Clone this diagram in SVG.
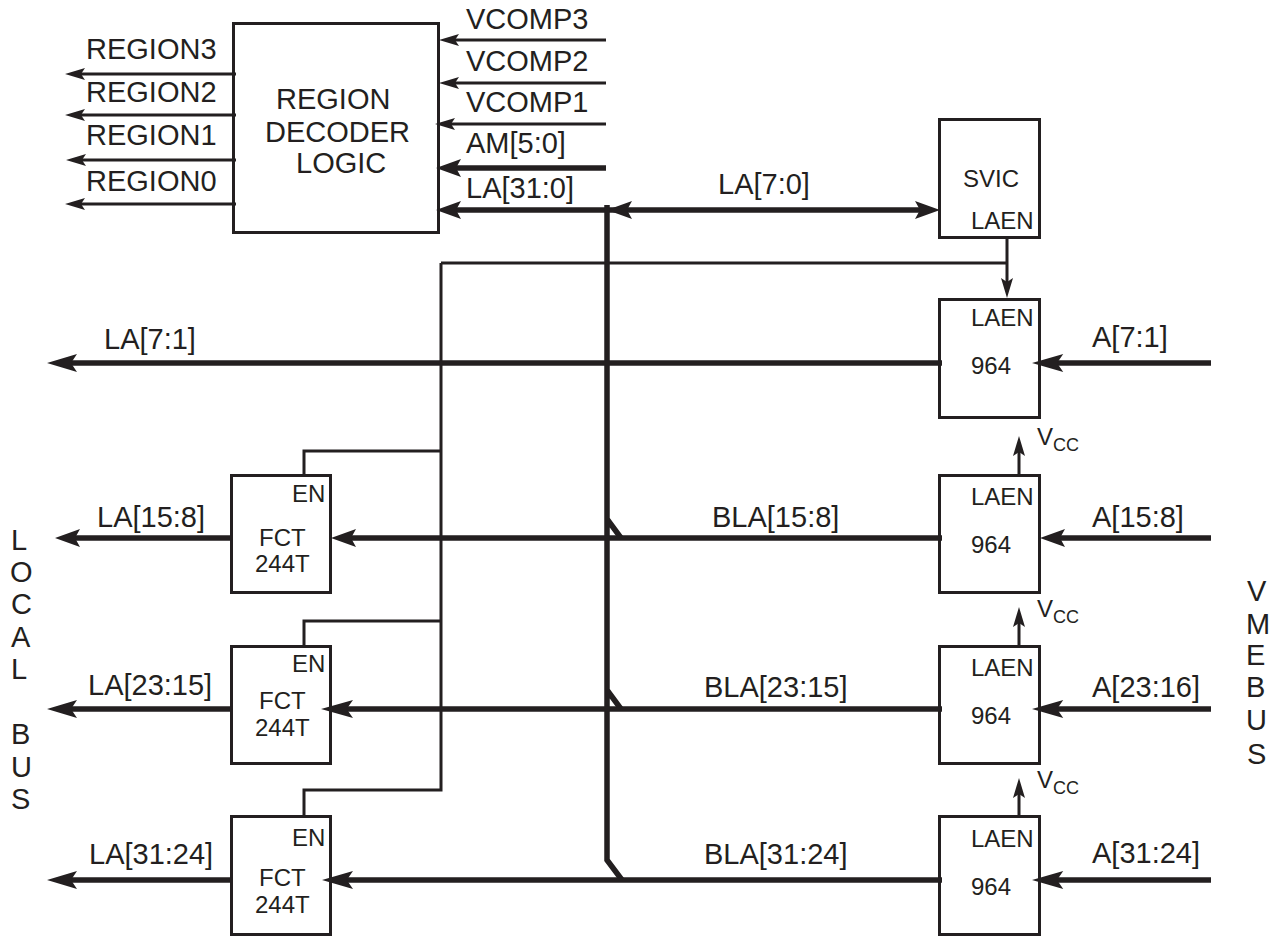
<svg xmlns="http://www.w3.org/2000/svg" width="1272" height="936" viewBox="0 0 1272 936">
<style>
text{font-family:"Liberation Sans",Arial,sans-serif;font-size:29px;fill:#231f20}
.s{font-size:24px}
.b{fill:#fff;stroke:#231f20;stroke-width:3}
.t1{fill:none;stroke:#231f20;stroke-width:3}
.t2{fill:none;stroke:#231f20;stroke-width:5.5}
.a{fill:#231f20}
</style>
<defs>
<path id="al" d="M0 0L25 -9L20 0L25 9Z"/>
<path id="as" d="M0 0L20 -6L16 0L20 6Z"/>
</defs>
<rect width="1272" height="936" fill="#fff"/>
<g id="region-decoder"><rect class="b" x="233.500" y="23.500" width="205" height="209"/><text x="276" y="109">REGION</text><text x="265" y="142">DECODER</text><text x="296" y="173">LOGIC</text></g>
<g id="svic"><rect class="b" x="939.500" y="119.500" width="100" height="118"/><text class="s" x="963" y="187">SVIC</text><text class="s" x="971" y="229">LAEN</text></g>
<g id="u964a"><rect class="b" x="939.500" y="299.500" width="100" height="118"/><text class="s" x="971" y="326">LAEN</text><text class="s" x="971" y="374">964</text></g>
<g id="u964b"><rect class="b" x="939.500" y="475.500" width="100" height="117"/><text class="s" x="971" y="505">LAEN</text><text class="s" x="971" y="553">964</text></g>
<g id="u964c"><rect class="b" x="939.500" y="646.500" width="100" height="117"/><text class="s" x="971" y="676">LAEN</text><text class="s" x="971" y="724">964</text></g>
<g id="u964d"><rect class="b" x="939.500" y="816.500" width="100" height="118"/><text class="s" x="971" y="847">LAEN</text><text class="s" x="971" y="895">964</text></g>
<g id="fct1"><rect class="b" x="231.500" y="475.500" width="99" height="117"/><text class="s" x="292" y="502">EN</text><text class="s" x="259" y="546">FCT</text><text class="s" x="255" y="572">244T</text></g>
<g id="fct2"><rect class="b" x="231.500" y="646.500" width="99" height="117"/><text class="s" x="292" y="672">EN</text><text class="s" x="259" y="709">FCT</text><text class="s" x="255" y="736">244T</text></g>
<g id="fct3"><rect class="b" x="231.500" y="816.500" width="99" height="118"/><text class="s" x="292" y="846">EN</text><text class="s" x="259" y="886">FCT</text><text class="s" x="255" y="913">244T</text></g>
<g id="connectors">
<path class="t1" d="M236 74H75M236 115H75M236 160H75M236 204H75"/>
<path class="t1" d="M606 40H450M606 83H450M606 124H450"/>
<path class="t2" d="M606 168H450M607 210H450M607 210H925"/>
<path class="t2" d="M607 205V860L622 880M607 519L621 538M607 690L621 709"/>
<path class="t1" d="M441 263H1007M1007 237V285M441 263V790H304V816M441 451H304V475M441 621H304V646"/>
<path class="t2" d="M942 363H65M232 538H70M942 538H345M232 709H65M942 709H345M232 880H65M942 880H345"/>
<path class="t2" d="M1211 363H1050M1211 538H1050M1211 709H1050M1211 880H1050"/>
<path class="t1" d="M1019 475V450M1019 646V622M1019 816V792"/>
<g class="a">
<use href="#as" transform="translate(65 74)"/><use href="#as" transform="translate(65 115)"/><use href="#as" transform="translate(66 160)"/><use href="#as" transform="translate(65 204)"/>
<use href="#as" transform="translate(439 40)"/><use href="#as" transform="translate(439 83)"/><use href="#as" transform="translate(435 124)"/>
<use href="#al" transform="translate(436 168)"/><use href="#al" transform="translate(436 210)"/><use href="#al" transform="translate(607 210)"/><use href="#al" transform="translate(940 210) rotate(180)"/>
<use href="#al" transform="translate(47 363) scale(1.2 1)"/><use href="#al" transform="translate(55 538)"/><use href="#al" transform="translate(47 709) scale(1.2 1)"/><use href="#al" transform="translate(47 880) scale(1.2 1)"/>
<use href="#al" transform="translate(331 538)"/><use href="#al" transform="translate(321 709) scale(1.28 1)"/><use href="#al" transform="translate(322 880) scale(1.24 1)"/>
<use href="#al" transform="translate(1032 363) scale(1.25 1)"/><use href="#al" transform="translate(1040 538)"/><use href="#al" transform="translate(1032 709) scale(1.25 1)"/><use href="#al" transform="translate(1032 880) scale(1.25 1)"/>
<use href="#as" transform="translate(1019 436) rotate(90)"/><use href="#as" transform="translate(1019 607) rotate(90)"/><use href="#as" transform="translate(1019 778) rotate(90)"/>
<use href="#as" transform="translate(1007 298) rotate(-90)"/>
</g>
</g>
<g id="labels">
<text x="86" y="59">REGION3</text><text x="86" y="102">REGION2</text><text x="86" y="145">REGION1</text><text x="86" y="191">REGION0</text>
<text x="466" y="29">VCOMP3</text><text x="466" y="71">VCOMP2</text><text x="466" y="112">VCOMP1</text><text x="466" y="153">AM[5:0]</text><text x="466" y="198">LA[31:0]</text>
<text x="718" y="194">LA[7:0]</text><text x="104" y="349">LA[7:1]</text><text x="97" y="527">LA[15:8]</text><text x="88" y="695">LA[23:15]</text><text x="89" y="864">LA[31:24]</text>
<text x="712" y="527">BLA[15:8]</text><text x="704" y="697">BLA[23:15]</text><text x="704" y="864">BLA[31:24]</text>
<text x="1092" y="347">A[7:1]</text><text x="1092" y="527">A[15:8]</text><text x="1092" y="697">A[23:16]</text><text x="1092" y="863">A[31:24]</text>
<text x="1037" y="445" class="s">V<tspan font-size="18" dy="6">CC</tspan></text><text x="1037" y="617" class="s">V<tspan font-size="18" dy="6">CC</tspan></text><text x="1037" y="788" class="s">V<tspan font-size="18" dy="6">CC</tspan></text>
<text x="11" y="550">L</text><text x="10" y="582">O</text><text x="11" y="614">C</text><text x="11" y="647">A</text><text x="11" y="679">L</text><text x="11" y="744">B</text><text x="11" y="777">U</text><text x="11" y="809">S</text>
<text x="1247" y="601">V</text><text x="1246" y="634">M</text><text x="1246" y="665">E</text><text x="1246" y="697">B</text><text x="1246" y="730">U</text><text x="1247" y="764">S</text>
</g>
</svg>
